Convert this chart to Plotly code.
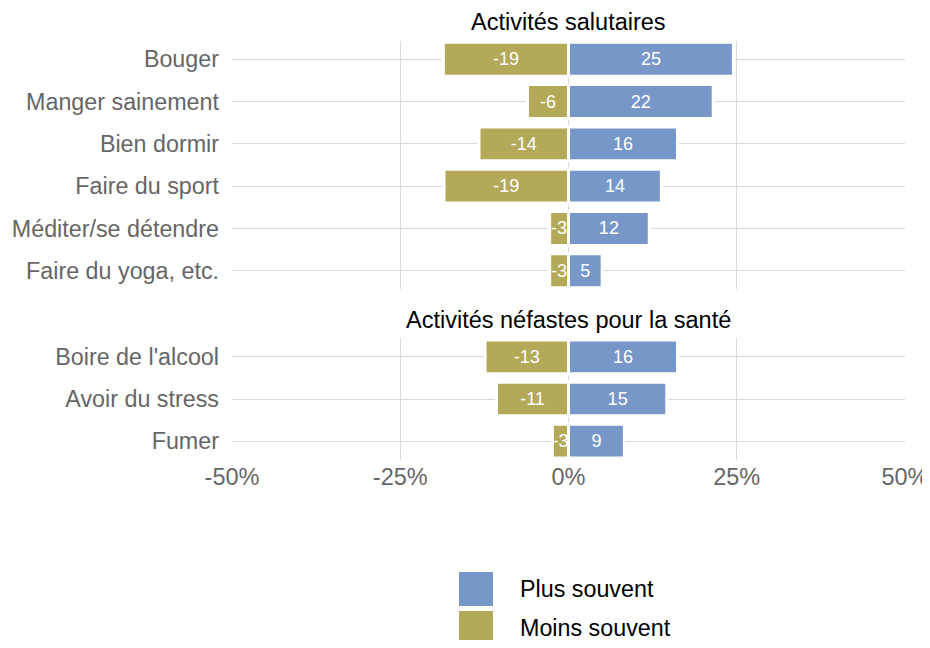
import plotly.graph_objects as go

# ── Data ─────────────────────────────────────────────────────────────
cats_top = ["Bouger", "Manger sainement", "Bien dormir", "Faire du sport",
            "Méditer/se détendre", "Faire du yoga, etc."]
plus_top = [24.5, 21.5, 16.2, 13.8, 12.0, 5.0]
moins_top = [-18.6, -6.1, -13.3, -18.5, -2.8, -2.8]
plus_top_lbl = [25, 22, 16, 14, 12, 5]
moins_top_lbl = [-19, -6, -14, -19, -3, -3]

cats_bot = ["Boire de l'alcool", "Avoir du stress", "Fumer"]
plus_bot = [16.2, 14.6, 8.3]
moins_bot = [-12.4, -10.7, -2.4]
plus_bot_lbl = [16, 15, 9]
moins_bot_lbl = [-13, -11, -3]

x_ticks = [-50, -25, 0, 25, 50]
x_tick_text = ["-50%", "-25%", "0%", "25%", "50%"]

BLUE = "#7897C9"
OLIVE = "#B3A959"
GRID = "#d9d9d9"
FONT = "Liberation Sans, Arial, sans-serif"

OFF = 8  # page body margin: screen px -> figure px
W, H = 930 - OFF, 648 - 2 * OFF  # no vertical scrollbar


def px(x):
    return (x - OFF) / W


def py(y):
    return 1 - (y - OFF) / H


def bar(y, x, lbl, color, name, xa, ya):
    return go.Bar(
        y=y, x=x, orientation="h", name=name,
        marker=dict(color=color, line=dict(color="white", width=3)),
        width=0.8,
        text=[str(v) for v in lbl], textposition="inside",
        insidetextanchor="middle", constraintext="none",
        textfont=dict(color="white", size=18, family=FONT),
        xaxis=xa, yaxis=ya, showlegend=False, hoverinfo="x+y",
    )


fig = go.Figure()
fig.add_trace(bar(cats_top, moins_top, moins_top_lbl, OLIVE, "Moins souvent", "x", "y"))
fig.add_trace(bar(cats_top, plus_top, plus_top_lbl, BLUE, "Plus souvent", "x", "y"))
fig.add_trace(bar(cats_bot, moins_bot, moins_bot_lbl, OLIVE, "Moins souvent", "x2", "y2"))
fig.add_trace(bar(cats_bot, plus_bot, plus_bot_lbl, BLUE, "Plus souvent", "x2", "y2"))

xdom = [px(232), px(905)]
top_dom = [py(289), py(41)]
bot_dom = [py(460), py(338)]

xcommon = dict(
    range=[-50, 50], domain=xdom, tickvals=x_ticks, ticktext=x_tick_text,
    showgrid=True, gridcolor=GRID, gridwidth=1, zeroline=False,
    showline=False, ticks="", fixedrange=True, automargin=False,
    ticklabeloverflow="allow",
    tickfont=dict(size=23.5, color="#666666", family=FONT),
)
ycommon = dict(
    showgrid=True, gridcolor=GRID, gridwidth=1, zeroline=False,
    showline=False, ticks="", ticklabelstandoff=12, automargin=False,
    tickfont=dict(size=23.3, color="#666666", family=FONT),
)

fig.update_layout(
    width=W, height=H,
    barmode="relative", bargap=0.2,
    plot_bgcolor="white", paper_bgcolor="white",
    margin=dict(l=0, r=0, t=0, b=0, autoexpand=False),
    font=dict(family=FONT),
    xaxis=dict(**xcommon, anchor="y", showticklabels=False),
    xaxis2=dict(**xcommon, anchor="y2", showticklabels=True),
    yaxis=dict(**ycommon, domain=top_dom, anchor="x", categoryorder="array",
               categoryarray=cats_top, range=[5.43, -0.43]),
    yaxis2=dict(**ycommon, domain=bot_dom, anchor="x2", categoryorder="array",
                categoryarray=cats_bot, range=[2.45, -0.45]),
    showlegend=False,
)

# dashed zero lines
for xr, yr in [("x", "y domain"), ("x2", "y2 domain")]:
    fig.add_shape(type="line", xref=xr, yref=yr, x0=0, x1=0, y0=0, y1=1,
                  line=dict(color=GRID, width=1, dash="dot"), layer="below")

# facet titles
xc = (xdom[0] + xdom[1]) / 2
for title, ypx in [("Activités salutaires", 22), ("Activités néfastes pour la santé", 320)]:
    fig.add_annotation(text=title, x=xc, y=py(ypx), xref="paper", yref="paper",
                       xanchor="center", yanchor="middle", showarrow=False,
                       font=dict(size=23.5, color="black", family=FONT))

# legend drawn by hand to match the large keys
for name, color, ypx in [("Plus souvent", BLUE, 589), ("Moins souvent", OLIVE, 628)]:
    fig.add_shape(type="rect", xref="paper", yref="paper",
                  x0=px(459), x1=px(493), y0=py(ypx + 17), y1=py(ypx - 17),
                  fillcolor=color, line=dict(width=0))
    fig.add_annotation(text=name, x=px(518), y=py(ypx), xref="paper", yref="paper",
                       xanchor="left", yanchor="middle", showarrow=False,
                       font=dict(size=23.3, color="black", family=FONT))

fig.write_html("out.html")
